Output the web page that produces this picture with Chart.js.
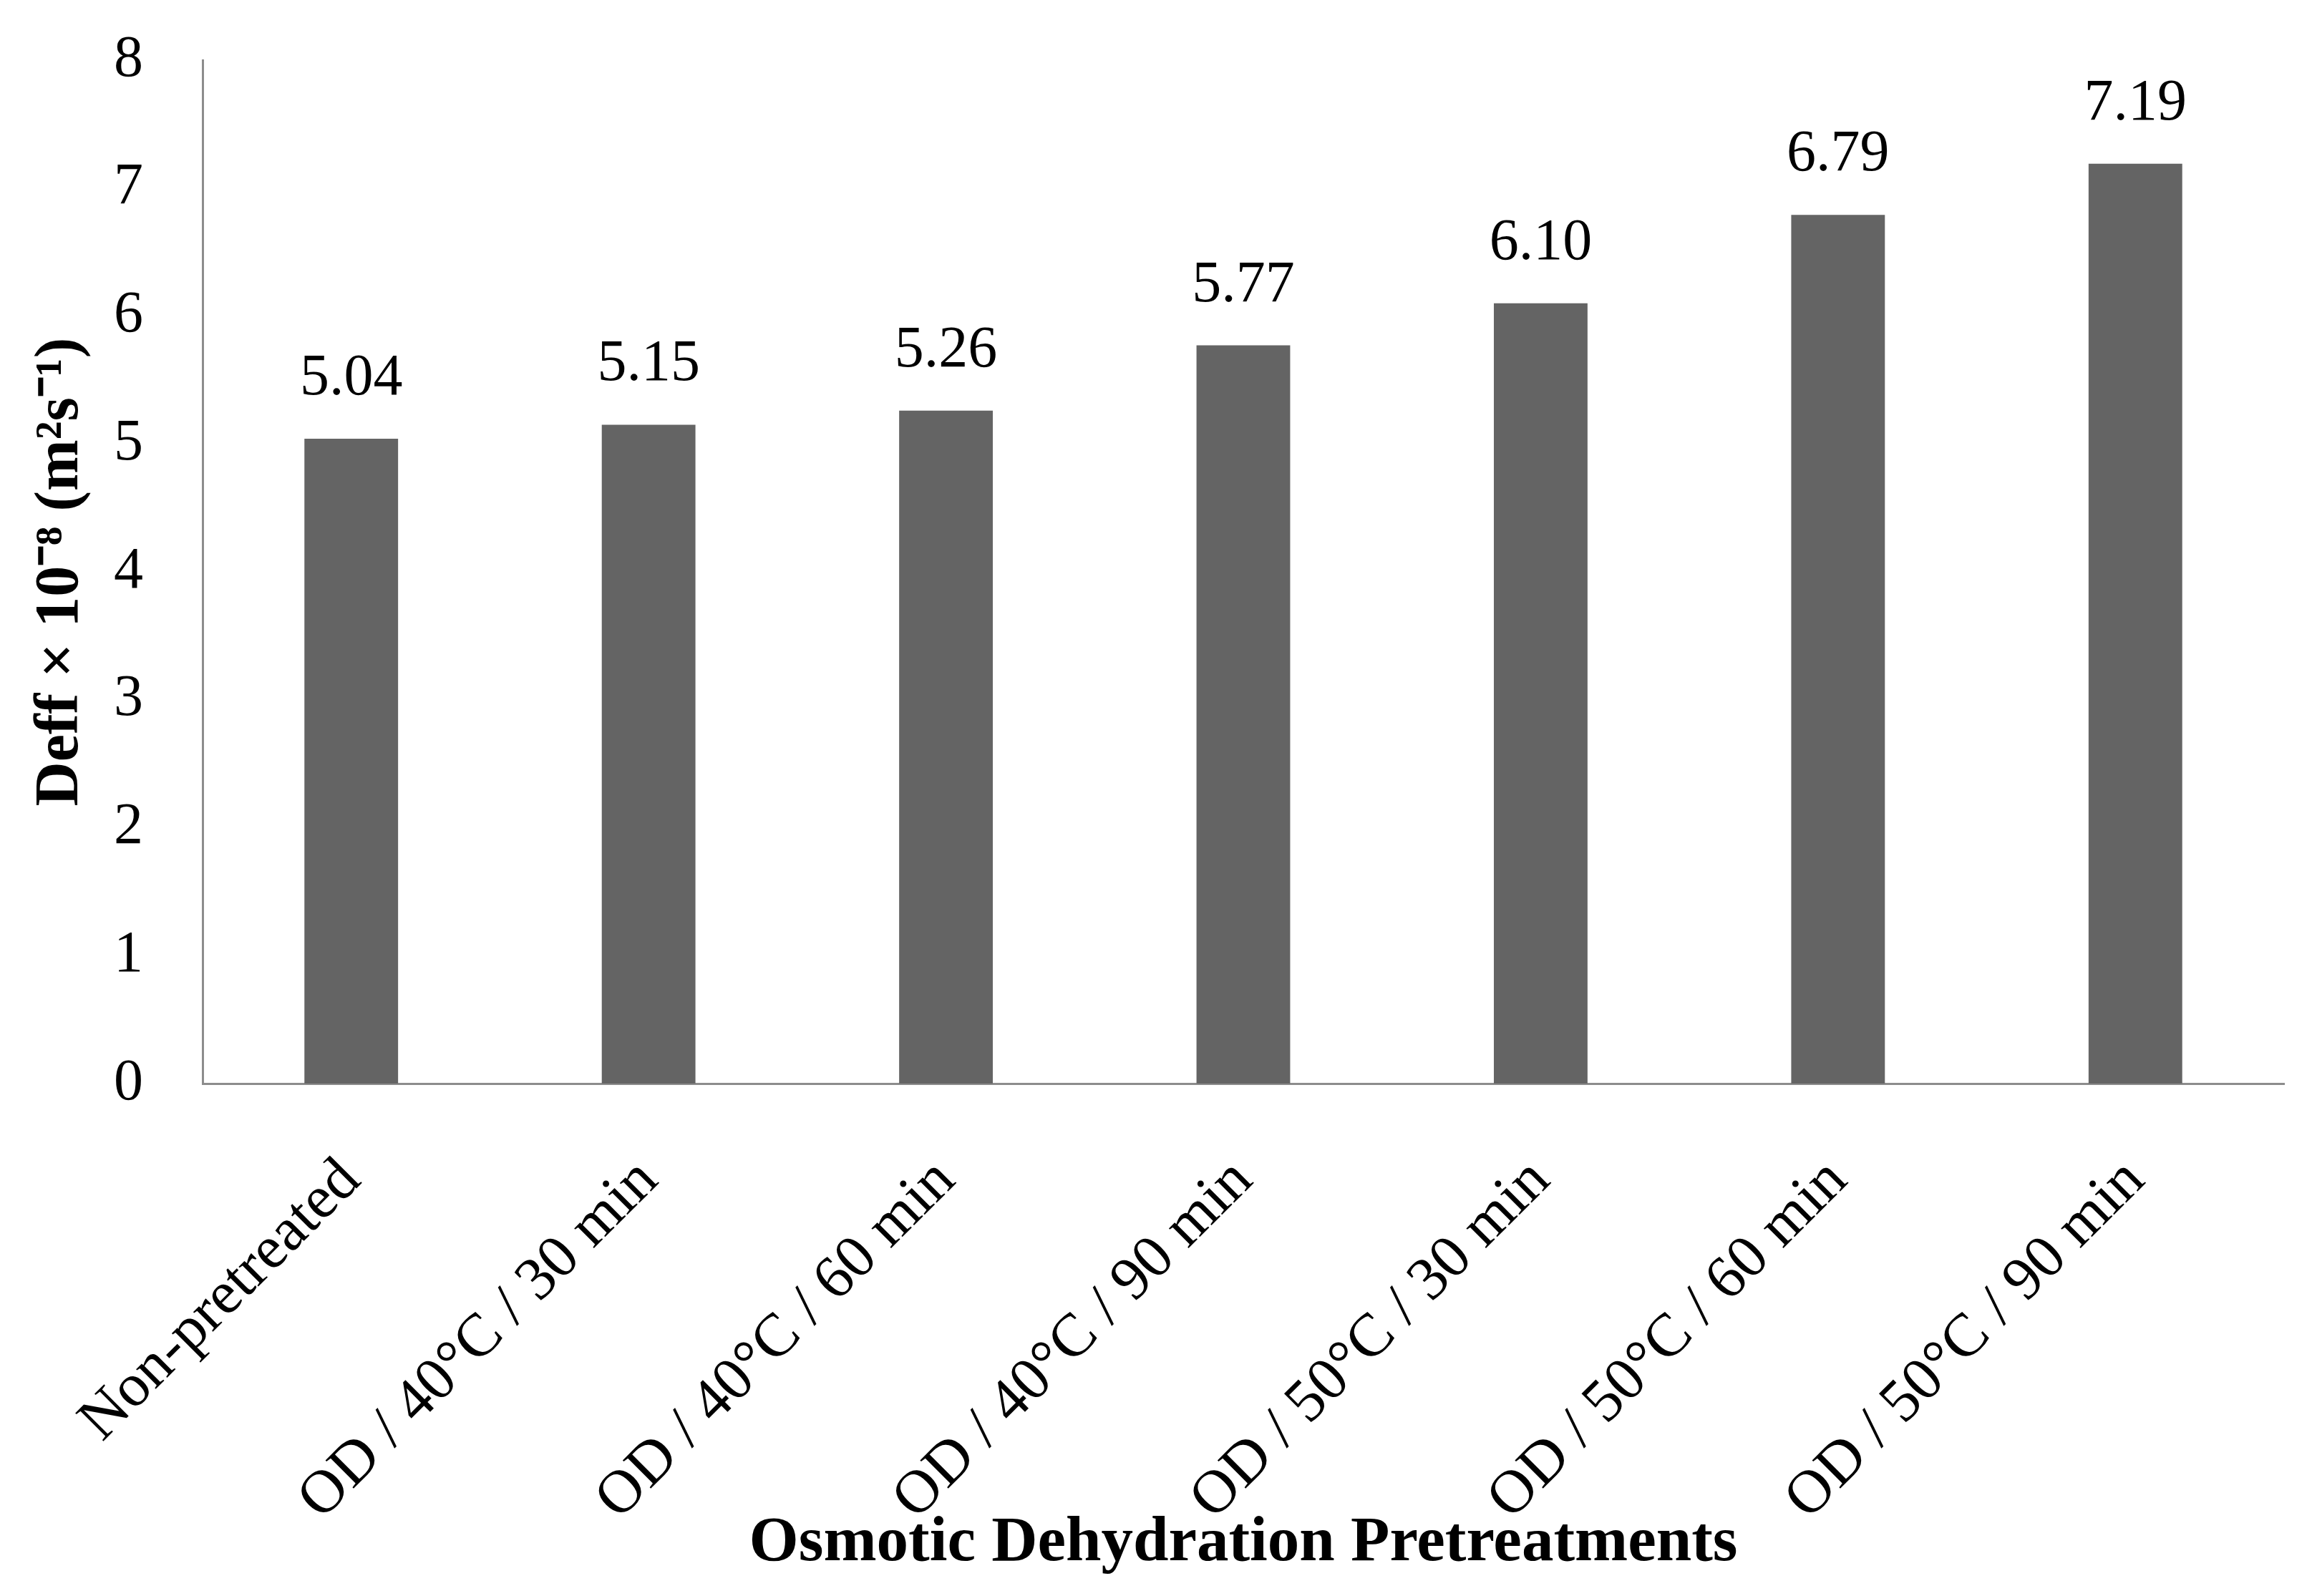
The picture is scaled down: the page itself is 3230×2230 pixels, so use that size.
<!DOCTYPE html>
<html>
<head>
<meta charset="utf-8">
<script src="https://cdn.jsdelivr.net/npm/chart.js@4.4.1/dist/chart.umd.min.js"></script>
<style>
html,body{margin:0;padding:0;background:#ffffff;}
#wrap{width:3230px;height:2230px;position:relative;}
canvas{display:block;}
</style>
</head>
<body>
<div id="wrap"><canvas id="chart" width="3230" height="2230"></canvas></div>
<script>
// ---- data ----
const categories = [
  "Non-pretreated",
  "OD / 40°C / 30 min",
  "OD / 40°C / 60 min",
  "OD / 40°C / 90 min",
  "OD / 50°C / 30 min",
  "OD / 50°C / 60 min",
  "OD / 50°C / 90 min"
];
const deffValues = [5.04, 5.15, 5.26, 5.77, 6.10, 6.79, 7.19];
const valueLabels = ["5.04", "5.15", "5.26", "5.77", "6.10", "6.79", "7.19"];
const yTickValues = [0, 1, 2, 3, 4, 5, 6, 7, 8];
const yAxisTitle = "Deff × 10⁻⁸ (m²s⁻¹)";
const xAxisTitle = "Osmotic Dehydration Pretreatments";

// ---- layout / style ----
const W = 3230, H = 2230;
const plotLeft = 283, plotRight = 3191, plotTop = 84, plotBottom = 1514;
const serif = '"Liberation Serif", "Times New Roman", serif';

const valueLabelPlugin = {
  id: 'valueLabels',
  afterDatasetsDraw(chart) {
    const meta = chart.getDatasetMeta(0);
    const ctx = chart.ctx;
    ctx.save();
    ctx.font = '82px ' + serif;
    ctx.fillStyle = '#000000';
    ctx.textAlign = 'center';
    ctx.textBaseline = 'alphabetic';
    meta.data.forEach((bar, i) => {
      ctx.fillText(valueLabels[i], bar.x, bar.y - 62);
    });
    ctx.restore();
  }
};

const ctx = document.getElementById('chart').getContext('2d');
new Chart(ctx, {
  type: 'bar',
  data: {
    labels: categories,
    datasets: [{
      data: deffValues,
      backgroundColor: '#646464',
      borderWidth: 0,
      barPercentage: 0.315,
      categoryPercentage: 1.0
    }]
  },
  options: {
    responsive: false,
    animation: false,
    devicePixelRatio: 1,
    layout: { padding: { left: 0, right: W - plotRight, top: plotTop, bottom: 0 } },
    plugins: {
      legend: { display: false },
      tooltip: { enabled: false },
      title: { display: false }
    },
    scales: {
      x: {
        type: 'category',
        grid: { display: false, drawTicks: true, tickLength: 86, tickColor: 'rgba(0,0,0,0)' },
        border: { display: true, color: '#8c8c8c', width: 3 },
        ticks: {
          color: '#000000',
          font: { family: serif, size: 85 },
          maxRotation: 45,
          minRotation: 45,
          padding: 0,
          autoSkip: false
        },
        title: {
          display: true,
          text: xAxisTitle,
          color: '#000000',
          font: { family: serif, size: 89, weight: 'bold' },
          padding: { top: 0, bottom: 20 }
        },
        afterFit(scale) { scale.height = H - plotBottom; }
      },
      y: {
        min: 0,
        max: 8,
        grid: { display: false, drawTicks: true, tickLength: 83, tickColor: 'rgba(0,0,0,0)' },
        border: { display: true, color: '#8c8c8c', width: 3 },
        afterBuildTicks(scale) { scale.ticks = yTickValues.map(v => ({ value: v })); },
        ticks: {
          color: '#000000',
          font: { family: serif, size: 82 },
          padding: 0
        },
        title: {
          display: true,
          text: yAxisTitle,
          color: '#000000',
          font: { family: serif, size: 86, weight: 'bold' },
          padding: { top: 34, bottom: 0 }
        },
        afterFit(scale) { scale.width = plotLeft; }
      }
    }
  },
  plugins: [valueLabelPlugin]
});
</script>
</body>
</html>
